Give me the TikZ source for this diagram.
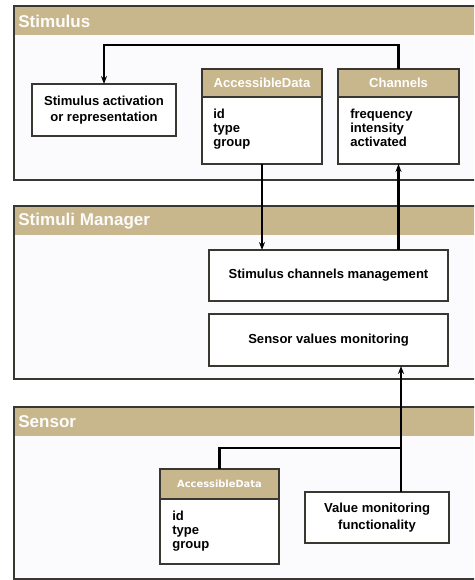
\documentclass[tikz,border=0pt]{standalone}
\usepackage{fontspec}
\setmainfont{Liberation Sans}
\newfontfamily\dvs{DejaVu Sans}
\usetikzlibrary{arrows.meta}
\definecolor{tan}{HTML}{C8B68C}
\definecolor{bodyc}{HTML}{FBFBFD}
\definecolor{edge}{HTML}{3A3632}
\begin{document}
\begin{tikzpicture}[x=0.75pt,y=-0.75pt,
  box/.style={draw=edge,line width=1.2pt,fill=white,inner sep=0pt,outer sep=0pt,font=\bfseries\fontsize{9.8}{12.5}\selectfont,align=center},
  hdr/.style={draw=edge,line width=1.2pt,fill=tan,inner sep=0pt,outer sep=0pt,text=white,font=\bfseries\fontsize{9.8}{12}\selectfont},
  attr/.style={anchor=north west,inner sep=0pt,align=left,font=\bfseries\fontsize{9.8}{10.5}\selectfont},
  ptitle/.style={anchor=west,inner sep=0pt,text=white!96!tan,font=\bfseries\fontsize{12.8}{14}\selectfont},
  conn/.style={line width=1.6pt,black},
  arr/.style={conn,-{Stealth[length=6pt,width=4.5pt]}}]
\useasboundingbox (0,0) rectangle (474,580);
\clip (0,0) rectangle (474,580);
% panels
\foreach \t/\h/\b in {6/35/180, 206/235/379, 407/436/579}{
  \fill[bodyc] (14,\h) rectangle (480,\b);
  \fill[tan] (14,\t) rectangle (480,\h);
  \draw[edge,line width=1.2pt] (480,\t) -- (14,\t) -- (14,\b) -- (480,\b);
}
\node[ptitle] (pstim) at (18,21) {Stimulus};
\node[ptitle] (pman) at (18,221) {Stimuli Manager};
\node[ptitle] (psens) at (18,422) {Sensor};
% Stimulus panel
\node[box,minimum width=108pt,minimum height=39pt] (act) at (104,110) {Stimulus activation\\or representation};
\node[box,minimum width=90pt,minimum height=71.25pt] (adt) at (262,116.5) {};
\node[hdr,minimum width=90pt,minimum height=21pt] (adth) at (262,83) {AccessibleData};
\node[attr] (adta) at (213,108.5) {id\\type\\group};
\node[box,minimum width=90.75pt,minimum height=71.25pt] (chan) at (398.5,116.5) {};
\node[hdr,minimum width=90.75pt,minimum height=21pt] (chanh) at (398.5,83) {Channels};
\node[attr] (chana) at (350,108.5) {frequency\\intensity\\activated};
% Manager panel
\node[box,minimum width=179.25pt,minimum height=38.25pt] (scm) at (328.5,275.5) {Stimulus channels management};
\node[box,minimum width=179.25pt,minimum height=39pt] (svm) at (328.5,340) {Sensor values monitoring};
% Sensor panel
\node[box,minimum width=89.25pt,minimum height=71.25pt] (ads) at (219.5,516.5) {};
\node[hdr,minimum width=89.25pt,minimum height=22.5pt,font=\dvs\bfseries\fontsize{7.4}{9}\selectfont] (adsh) at (219.5,484) {AccessibleData};
\node[attr] (adsa) at (172,510.5) {id\\type\\group};
\node[box,minimum width=108pt,minimum height=38.25pt] (vm) at (377,517.5) {Value monitoring\\functionality};
% connectors
\coordinate (topy) at (0,45);
\coordinate (jn) at (401,448);
\draw[arr] (chanh.north) -- (chanh.north |- topy) -| (act.north);
\draw[arr] (adt.south) -- (adt.south |- scm.north);
\draw[arr] (scm.north -| chan.south) -- (chan.south);
\draw[conn] (adsh.north) |- (jn);
\draw[arr] (vm.north -| jn) -- (svm.south -| jn);
\end{tikzpicture}
\end{document}
